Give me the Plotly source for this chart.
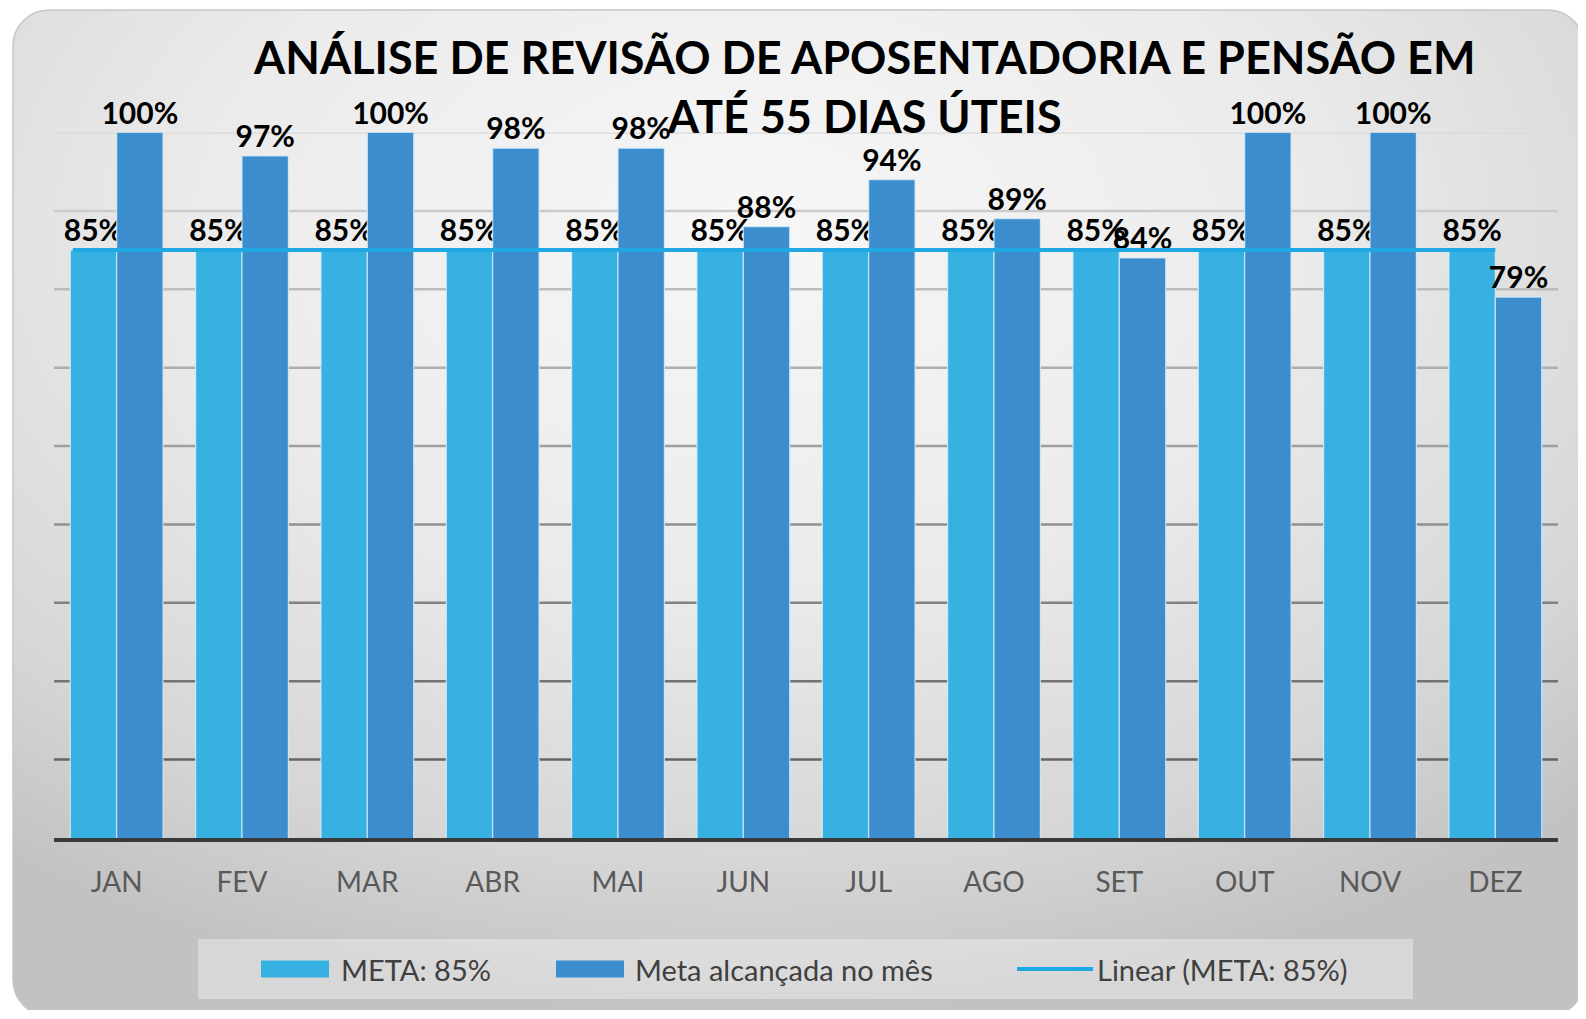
import base64
import numpy as np
import plotly.graph_objects as go

# ---------------- data ----------------
months = ["JAN", "FEV", "MAR", "ABR", "MAI", "JUN", "JUL", "AGO", "SET", "OUT", "NOV", "DEZ"]
meta = [0.85, 0.85, 0.85, 0.85, 0.85, 0.85, 0.85, 0.85, 0.85, 0.85, 0.85, 0.85]
alcancada = [1.00, 0.97, 1.00, 0.98, 0.98, 0.88, 0.94, 0.89, 0.84, 1.00, 1.00, 0.79]
series_names = ["META: 85%", "Meta alcançada no mês", "Linear (META: 85%)"]
title_text = "ANÁLISE DE REVISÃO DE APOSENTADORIA E PENSÃO EM<br>ATÉ 55 DIAS ÚTEIS"
grid_vals = [0.2, 0.3, 0.4, 0.5, 0.6, 0.7, 0.8, 0.9, 1.0]

# ---------------- style ----------------
OFF = 8                      # default page margin of the html body
W, H = 1586 - 2 * OFF, 1019 - 2 * OFF - 1
LIGHT = "#37b0e2"
DARK = "#3b8dcd"
TREND = "#1fa8e3"
FONT = "Lato"

def px(x):
    return (x - OFF) / W

def py(y):
    return 1 - (y - OFF) / H

x_idx = list(range(len(months)))

# linear trendline of META series (backward forecast 0.35 period)
coef = np.polyfit(np.array(x_idx, dtype=float), np.array(meta), 1)
trend_x = np.array([-0.35, len(months) - 1])
trend_y = np.polyval(coef, trend_x)

fig = go.Figure()

label_font = dict(family=FONT, size=30, color="black", weight="bold")
bar_line = dict(color="rgba(210,236,250,0.85)", width=1.2)

fig.add_trace(go.Bar(
    x=x_idx, y=meta, name=series_names[0],
    marker=dict(color=LIGHT, line=bar_line),
    text=[f"{v:.0%}" for v in meta], textposition="outside", textfont=label_font,
    cliponaxis=False, constraintext="none", showlegend=False,
))
fig.add_trace(go.Bar(
    x=x_idx, y=alcancada, name=series_names[1],
    marker=dict(color=DARK, line=bar_line),
    text=[f"{v:.0%}" for v in alcancada], textposition="outside", textfont=label_font,
    cliponaxis=False, constraintext="none", showlegend=False,
))
fig.add_trace(go.Scatter(
    x=trend_x, y=trend_y, mode="lines", name=series_names[2],
    line=dict(color=TREND, width=4), showlegend=False, cliponaxis=False,
))

# ---------------- background (rounded gradient panel) ----------------
svg = f"""<svg xmlns='http://www.w3.org/2000/svg' width='{W}' height='{H}' viewBox='0 0 {W} {H}'>
<defs>
<radialGradient id='g' cx='0.47' cy='0.22' r='0.78'>
<stop offset='0' stop-color='#f7f7f7'/>
<stop offset='0.45' stop-color='#ebebeb'/>
<stop offset='0.8' stop-color='#d6d6d6'/>
<stop offset='1' stop-color='#c2c2c2'/>
</radialGradient>
</defs>
<rect x='{13 - OFF}' y='{10 - OFF}' width='1571' height='1006' rx='36' ry='36' fill='url(#g)' stroke='#c6c6c6' stroke-width='1.5'/>
</svg>"""
src = "data:image/svg+xml;base64," + base64.b64encode(svg.encode("utf-8")).decode("ascii")

shapes = []
# gridlines: lighter towards the top, darker towards the bottom
for v in grid_vals:
    t = (v - grid_vals[0]) / (grid_vals[-1] - grid_vals[0])
    c = int(round(100 + t * (218 - 100)))
    shapes.append(dict(type="line", xref="x domain", yref="y", x0=0, x1=1, y0=v, y1=v,
                       line=dict(color=f"rgb({c},{c},{c})", width=2.5), layer="below"))

# ---------------- custom legend ----------------
leg_y = 969
shapes.append(dict(type="rect", xref="paper", yref="paper",
                   x0=px(198), x1=px(1413), y0=py(939), y1=py(999),
                   fillcolor="rgba(255,255,255,0.35)", line=dict(width=0), layer="below"))
shapes.append(dict(type="rect", xref="paper", yref="paper",
                   x0=px(261), x1=px(329), y0=py(leg_y - 8.5), y1=py(leg_y + 8.5),
                   fillcolor=LIGHT, line=dict(width=0)))
shapes.append(dict(type="rect", xref="paper", yref="paper",
                   x0=px(556), x1=px(624), y0=py(leg_y - 8.5), y1=py(leg_y + 8.5),
                   fillcolor=DARK, line=dict(width=0)))
shapes.append(dict(type="line", xref="paper", yref="paper",
                   x0=px(1017), x1=px(1093), y0=py(leg_y), y1=py(leg_y),
                   line=dict(color=TREND, width=4)))

annotations = []
for xpos, name in zip([339, 633, 1095], series_names):
    annotations.append(dict(xref="paper", yref="paper", x=px(xpos), y=py(leg_y),
                            xanchor="left", yanchor="middle", showarrow=False,
                            text=name, font=dict(family=FONT, size=29, color="#404040")))

# title
annotations.append(dict(xref="paper", yref="paper", x=px(864), y=py(87),
                        xanchor="center", yanchor="middle", showarrow=False,
                        text=title_text, align="center",
                        font=dict(family=FONT, size=45, color="black", weight="bold")))

fig.update_layout(
    width=W, height=H,
    margin=dict(l=0, r=0, t=0, b=0),
    paper_bgcolor="white",
    plot_bgcolor="rgba(0,0,0,0)",
    barmode="group", bargap=0.26, bargroupgap=0,
    xaxis=dict(domain=[px(54), px(1558)], range=[-0.5, 11.5],
               tickmode="array", tickvals=x_idx, ticktext=months,
               showgrid=False, zeroline=False, ticks="",
               showline=True, linecolor="#3a3a3a", linewidth=4,
               tickfont=dict(family=FONT, size=28, color="#595959"),
               ticklabelstandoff=16),
    yaxis=dict(domain=[py(838), py(132.5)], range=[0.1, 1.0],
               showgrid=False, zeroline=False, showticklabels=False, ticks=""),
    images=[dict(source=src, xref="paper", yref="paper", x=0, y=1, sizex=1, sizey=1,
                 sizing="stretch", xanchor="left", yanchor="top", layer="below")],
    shapes=shapes,
    annotations=annotations,
    showlegend=False,
)

fig.write_html("out.html")
